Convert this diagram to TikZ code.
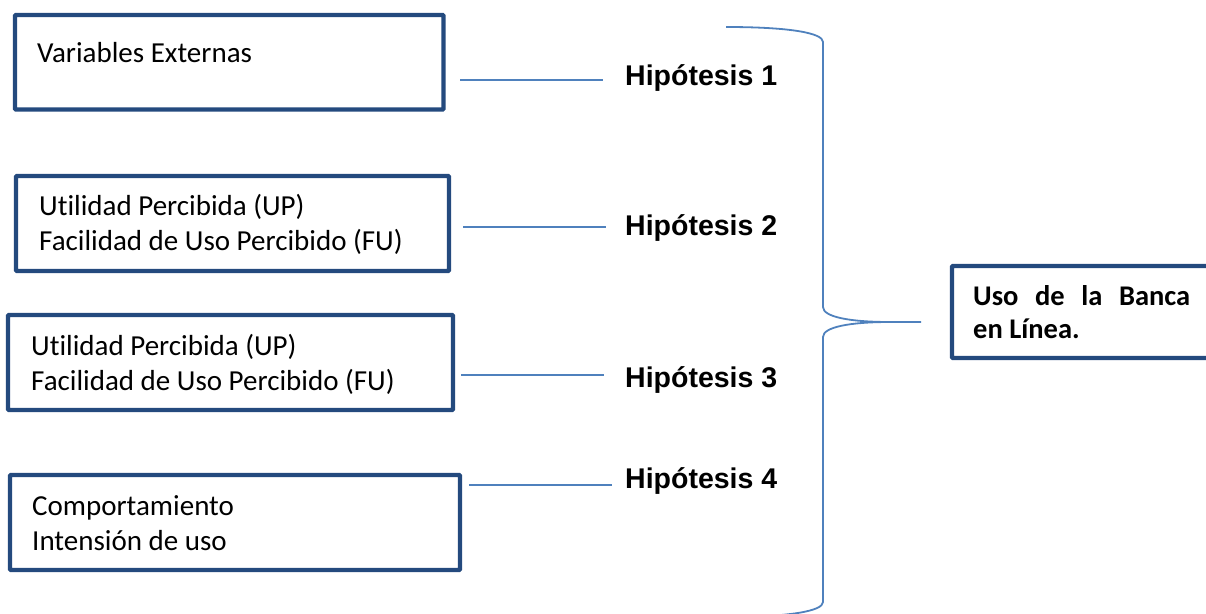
\documentclass[tikz,border=0pt]{standalone}
\usepackage{fontspec}
\setmainfont[Ligatures=NoCommon]{Carlito}
\newfontfamily\hypfont{Liberation Sans}
\definecolor{boxblue}{RGB}{36,74,126}
\definecolor{linkblue}{RGB}{79,129,189}
\begin{document}
\begin{tikzpicture}[x=1pt,y=-1pt,
  boxframe/.style={draw=boxblue, line width=4.3pt, rounded corners=1pt,
    anchor=north west, inner sep=0pt, outer sep=0pt},
  % base anchor of a multi-line text sits on its last line
  boxtext/.style={anchor=base west, inner sep=0pt, align=left,
    font=\fontsize{29}{35}\selectfont},
  hyp/.style={anchor=base west, inner sep=0pt,
    font=\hypfont\bfseries\fontsize{28.5}{34}\selectfont},
  link/.style={draw=linkblue, line width=1.6pt},
  bracket/.style={draw=linkblue, line width=1.8pt, line join=round},
]
\useasboundingbox (0,0) rectangle (1206,613);

% variable boxes
\node[boxframe, minimum width=428.5pt, minimum height=94.5pt] (b1) at (15,15) {};
\node[boxframe, minimum width=433pt, minimum height=95pt] (b2) at (16,176) {};
\node[boxframe, minimum width=445pt, minimum height=95pt] (b3) at (8,315) {};
\node[boxframe, minimum width=450pt, minimum height=95pt] (b4) at (10,475) {};

\node[boxtext] (t1) at (37,62) {Variables Externas};
\node[boxtext] (t2) at (39,250) {Utilidad Percibida (UP)\\Facilidad de Uso Percibido (FU)};
\node[boxtext] (t3) at (31,390) {Utilidad Percibida (UP)\\Facilidad de Uso Percibido (FU)};
\node[boxtext] (t4) at (32,550) {Comportamiento\\Intensión de uso};

% hypotheses
\node[hyp] (h1) at (625,85) {Hipótesis 1};
\node[hyp] (h2) at (625,235) {Hipótesis 2};
\node[hyp] (h3) at (625,387) {Hipótesis 3};
\node[hyp] (h4) at (625,488) {Hipótesis 4};

% connectors between the boxes and the hypotheses
\coordinate (c1a) at (460,80);  \coordinate (c1b) at (603,80);
\coordinate (c2a) at (463,227); \coordinate (c2b) at (606,227);
\coordinate (c3a) at (461,375); \coordinate (c3b) at (604,375);
\coordinate (c4a) at (469,485); \coordinate (c4b) at (612,485);
\draw[link] (c1a) -- (c1b);
\draw[link] (c2a) -- (c2b);
\draw[link] (c3a) -- (c3b);
\draw[link] (c4a) -- (c4b);

% right brace gathering the hypotheses
\draw[bracket] (726,27) .. controls (790,27) and (823,33) .. (823,42)
  -- (823,307) .. controls (823,317) and (850,322) .. (890,322) -- (921,322);
\draw[bracket] (890,322) .. controls (850,322) and (823,327) .. (823,337)
  -- (823,602) .. controls (823,611) and (790,617) .. (726,617);

% outcome box
\node[boxframe, minimum width=270pt, minimum height=92pt] (res) at (952,266) {};
\node[boxtext, font=\bfseries\fontsize{28.5}{33}\selectfont] (rt) at (973,338)
  {\makebox[217pt][s]{Uso de la Banca}\\en Línea.};
\end{tikzpicture}
\end{document}
